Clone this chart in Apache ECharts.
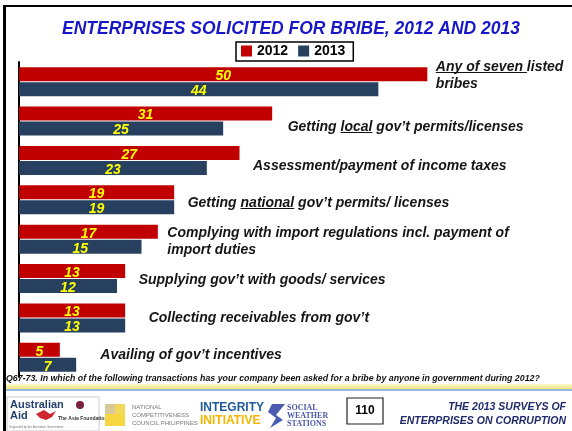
<!DOCTYPE html>
<html><head><meta charset="utf-8">
<script src="https://cdn.jsdelivr.net/npm/echarts@6/dist/echarts.min.js"></script>
<style>html,body{margin:0;padding:0;background:#fff}#c{width:572px;height:431px}</style>
</head><body><div id="c"></div>
<script>
// ---- data ----
const categories = [
  "Any of seven listed bribes",
  "Getting local gov’t permits/licenses",
  "Assessment/payment of income taxes",
  "Getting national gov’t permits/ licenses",
  "Complying with import regulations incl. payment of import duties",
  "Supplying gov’t with goods/ services",
  "Collecting receivables from gov’t",
  "Availing of gov’t incentives"
];
// display text for the category labels (rich-text markup: {u|..} underlined)
const categoryLabels = [
  "{u|Any of seven }{n|listed}\n{n|bribes}",
  "{n|Getting }{u|local}{n| gov’t permits/licenses}",
  "{n|Assessment/payment of income taxes}",
  "{n|Getting }{u|national}{n| gov’t permits/ licenses}",
  "{n|Complying with import regulations incl. payment of}\n{n|import duties}",
  "{n|Supplying gov’t with goods/ services}",
  "{n|Collecting receivables from gov’t}",
  "{n|Availing of gov’t incentives}"
];
const seriesNames = ["2012", "2013"];
const values2012 = [50, 31, 27, 19, 17, 13, 13, 5];
const values2013 = [44, 25, 23, 19, 15, 12, 13, 7];
const titleText = "ENTERPRISES SOLICITED FOR BRIBE, 2012 AND 2013";
const footnoteText = "Q67-73. In which of the following transactions has your company been asked for a bribe by anyone in government during 2012?";

// ---- styles ----
const FONT = "'Liberation Sans', Arial, sans-serif";
const RED = "#c00000", BLUE = "#27405f";
const labelOffsets = [[8,-6],[15,6],[13,6],[13,3],[9,2],[13,2],[23,0],[40,-2]];

const chart = echarts.init(document.getElementById('c'), null, {renderer:'canvas'});
const underlineBg = new echarts.graphic.LinearGradient(0,0,0,1,[
  {offset:0,color:'rgba(0,0,0,0)'},{offset:0.86,color:'rgba(0,0,0,0)'},
  {offset:0.86,color:'#111'},{offset:0.95,color:'#111'},
  {offset:0.95,color:'rgba(0,0,0,0)'},{offset:1,color:'rgba(0,0,0,0)'}]);
const catText = {fontFamily:FONT,fontSize:14,fontWeight:'bold',fontStyle:'italic',color:'#151515',lineHeight:17};

const valueLabel = {
  show:true, position:'inside', offset:[0,2], color:'#ffff00',
  fontFamily:FONT, fontSize:14, fontWeight:'bold', fontStyle:'italic'
};

chart.setOption({
  animation:false,
  backgroundColor:'#fff',
  title:{text:titleText,left:57,top:15,
    textStyle:{color:'#1717c9',fontFamily:FONT,fontSize:17.5,fontWeight:'bold',fontStyle:'italic'}},
  legend:{data:seriesNames,left:236,top:42,icon:'rect',itemWidth:11,itemHeight:11,itemGap:10,
    padding:[2,8,3,5],borderColor:'#000',borderWidth:1.5,
    textStyle:{fontFamily:FONT,fontSize:14,fontWeight:'bold',color:'#000'}},
  grid:{left:19,top:62,width:490,height:315},
  xAxis:{type:'value',min:0,max:60,show:false},
  yAxis:{type:'category',data:categories,inverse:true,
    axisLine:{show:true,lineStyle:{color:'#000',width:2}},
    axisTick:{show:false},axisLabel:{show:false},splitLine:{show:false}},
  series:[
    {name:seriesNames[0],type:'bar',data:values2012,barWidth:14,barGap:'7%',
      itemStyle:{color:RED},label:valueLabel,z:3},
    {name:seriesNames[1],type:'bar',data:values2013,barWidth:14,barGap:'7%',
      itemStyle:{color:BLUE},label:valueLabel,z:3},
    {name:'labels',type:'scatter',symbolSize:1,itemStyle:{color:'rgba(0,0,0,0)',opacity:1},z:4,silent:true,
      data:categories.map((c,i)=>({value:[values2012[i],c],
        label:{show:true,position:'right',distance:0,offset:labelOffsets[i],opacity:1,
          formatter:categoryLabels[i],
          rich:{n:catText,u:Object.assign({},catText,{backgroundColor:underlineBg})}}}))}
  ],
  graphic:[
    // slide frame
    {type:'rect',shape:{x:3,y:5,width:572,height:2},style:{fill:'#000'},silent:true},
    {type:'rect',shape:{x:3,y:5,width:3,height:431},style:{fill:'#000'},silent:true},
    // footnote
    {type:'text',left:6,top:374,style:{text:footnoteText,fontFamily:FONT,fontSize:8.8,
      fontWeight:'bold',fontStyle:'italic',fill:'#111'}},
    // footer band
    {type:'rect',shape:{x:6,y:384,width:566,height:5},
      style:{fill:new echarts.graphic.LinearGradient(0,0,0,1,[{offset:0,color:'#fffbd0'},{offset:1,color:'#f3e27a'}])}},
    {type:'rect',shape:{x:6,y:389,width:566,height:2},style:{fill:'#9db8df'}},
    // Australian Aid / Asia Foundation
    {type:'rect',shape:{x:7,y:397,width:92,height:34},style:{fill:'#fff',stroke:'#ccc',lineWidth:1}},
    {type:'text',left:10,top:399,style:{text:'Australian\nAid',fontFamily:FONT,fontSize:11,fontWeight:'bold',fill:'#23406e',lineHeight:11}},
    {type:'polygon',shape:{points:[[36,414],[44,410],[50,414],[56,411],[52,417],[46,420],[40,418]]},style:{fill:'#d0262d'}},
    {type:'circle',shape:{cx:80,cy:405,r:4},style:{fill:'#7a1f3a'}},
    {type:'text',left:58,top:416,style:{text:'The Asia Foundation',fontFamily:FONT,fontSize:5,fontWeight:'bold',fill:'#333'}},
    {type:'text',left:9,top:426,style:{text:'Supported by the Australian Government',fontFamily:FONT,fontSize:3,fill:'#777'}},
    // NCC
    {type:'rect',shape:{x:105,y:404,width:10,height:10},style:{fill:'#d9c99a'}},
    {type:'rect',shape:{x:115,y:404,width:10,height:10},style:{fill:'#f2d95c'}},
    {type:'rect',shape:{x:105,y:414,width:20,height:12},style:{fill:'#f5d742'}},
    {type:'text',left:132,top:403,style:{text:'NATIONAL\nCOMPETITIVENESS\nCOUNCIL PHILIPPINES',fontFamily:FONT,fontSize:6,fill:'#777',lineHeight:8}},
    // Integrity Initiative
    {type:'text',left:200,top:402,style:{text:'INTEGRITY',fontFamily:"'Liberation Sans Narrow', "+FONT,fontSize:12,fontWeight:'bold',fill:'#1d5a9a'}},
    {type:'text',left:200,top:415,style:{text:'INITIATIVE',fontFamily:"'Liberation Sans Narrow', "+FONT,fontSize:12,fontWeight:'bold',fill:'#f7b500'}},
    // SWS
    {type:'polygon',shape:{points:[[272,404],[285,404],[276,415],[283,420],[270,428],[276,418],[268,412]]},style:{fill:'#4a5cb2'}},
    {type:'text',left:287,top:404,style:{text:'SOCIAL\nWEATHER\nSTATIONS',fontFamily:"'Liberation Serif', serif",fontSize:8,fontWeight:'bold',fill:'#4b5aa8',lineHeight:8}},
    // page number
    {type:'rect',shape:{x:347,y:398,width:36,height:26},style:{fill:'#fff',stroke:'#222',lineWidth:1.2}},
    {type:'text',x:365,y:411,style:{text:'110',align:'center',verticalAlign:'middle',fontFamily:FONT,fontSize:12,fontWeight:'bold',fill:'#000'}},
    // survey title
    {type:'text',x:566,y:407,style:{text:'THE 2013 SURVEYS OF',align:'right',verticalAlign:'middle',fontFamily:FONT,fontSize:10.5,fontWeight:'bold',fontStyle:'italic',fill:'#1f2a6b'}},
    {type:'text',x:566,y:421,style:{text:'ENTERPRISES ON CORRUPTION',align:'right',verticalAlign:'middle',fontFamily:FONT,fontSize:10.5,fontWeight:'bold',fontStyle:'italic',fill:'#1f2a6b'}}
  ]
});
</script></body></html>
